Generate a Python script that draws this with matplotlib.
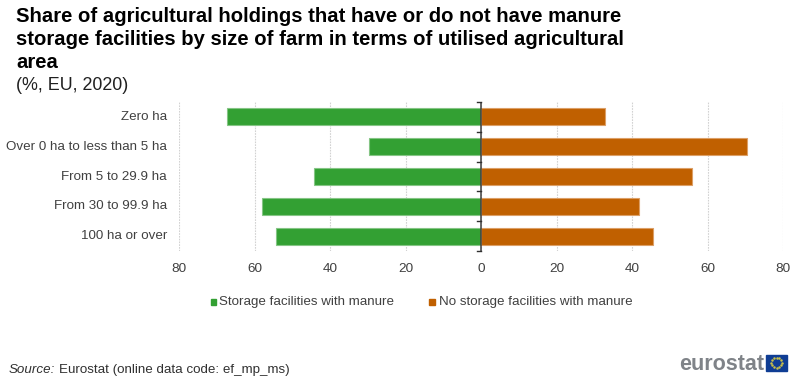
# -*- coding: utf-8 -*-
import numpy as np
import matplotlib
matplotlib.use("Agg")
import matplotlib.pyplot as plt
from matplotlib.patches import Rectangle

plt.rcParams["font.family"] = ["Liberation Sans", "DejaVu Sans"]

categories = ["Zero ha", "Over 0 ha to less than 5 ha", "From 5 to 29.9 ha",
              "From 30 to 99.9 ha", "100 ha or over"]
with_storage = [67.4, 29.8, 44.2, 58.0, 54.5]
no_storage = [32.7, 70.3, 55.7, 41.8, 45.4]
x_ticks = [-80, -60, -40, -20, 0, 20, 40, 60, 80]
x_labels = ["80", "60", "40", "20", "0", "20", "40", "60", "80"]
title_lines = ["Share of agricultural holdings that have or do not have manure",
               "storage facilities by size of farm in terms of utilised agricultural",
               "area"]

GREEN = "#33a033"
ORANGE = "#c06000"
INK = "#404040"
W, H = 800, 385

fig = plt.figure(figsize=(W / 100, H / 100), dpi=100)
ax = fig.add_axes([179.3 / W, 1 - 251.3 / H, (783.3 - 179.3) / W, (251.3 - 101.7) / H])

y = np.arange(len(categories))
ax.barh(y, -np.array(with_storage), height=0.56, color=GREEN,
        edgecolor="#85c585", linewidth=0.8, zorder=3)
ax.barh(y, no_storage, height=0.56, color=ORANGE,
        edgecolor="#dc9f66", linewidth=0.8, zorder=3)

ax.set_xlim(-80, 80)
ax.set_ylim(len(categories) - 0.5, -0.5)
ax.set_xticks(x_ticks, x_labels, fontsize=9.7, color=INK)
ax.tick_params(axis="x", length=0, pad=8.5)
ax.set_yticks([])
ax.grid(axis="x", color="#d2d2d2", linestyle=(0, (1.5, 1)), linewidth=0.8, zorder=0)
for s in ax.spines.values():
    s.set_visible(False)

# axe central avec graduations entre les catégories
ax.axvline(0, color="#404040", linewidth=1.1, zorder=4)
for edge in np.arange(len(categories) + 1) - 0.5:
    ax.plot([-1.15, 0], [edge, edge], color="#303030", linewidth=1.0,
            zorder=4, clip_on=False)
for yy, name in zip(y, categories):
    ax.text(167 / W, 1 - (101.7 + (yy + 0.5) * 29.92) / H, name, transform=fig.transFigure,
            ha="right", va="center", fontsize=9.6, color=INK)

# titre
for line, base in zip(title_lines, [22, 44.7, 68]):
    fig.text(16 / W, 1 - base / H, line, fontsize=14.55, fontweight="bold",
             color="black", va="baseline")
fig.text(16 / W, 1 - 90 / H, "(%, EU, 2020)", fontsize=12.9, color="#202020", va="baseline")

# légende
fig.patches.append(Rectangle((210.7 / W, 1 - 304.5 / H), 5.5 / W, 5.5 / H,
                             transform=fig.transFigure, color=GREEN))
fig.text(219.5 / W, 1 - 301.5 / H, "Storage facilities with manure", fontsize=9.65,
         color=INK, va="center")
fig.patches.append(Rectangle((429.3 / W, 1 - 304.5 / H), 5.5 / W, 5.5 / H,
                             transform=fig.transFigure, color=ORANGE))
fig.text(438.7 / W, 1 - 301.5 / H, "No storage facilities with manure", fontsize=9.65,
         color=INK, va="center")

# source
fig.text(9 / W, 1 - 373 / H, "Source:", fontsize=9.6, style="italic", color="#303030", va="baseline")
fig.text(59 / W, 1 - 373 / H, "Eurostat (online data code: ef_mp_ms)", fontsize=9.6,
         color="#303030", va="baseline")

# logo
fig.text(679 / W, 1 - 370.5 / H, "eurostat", fontsize=15.5, fontweight="bold",
         color="#7f8388", va="baseline")
fig.patches.append(Rectangle((766 / W, 1 - 370.7 / H), 21.3 / W, 15.7 / H,
                             transform=fig.transFigure, color="#0f3d94"))
angles = np.linspace(0, 2 * np.pi, 12, endpoint=False)
fig.add_artist(plt.Line2D((776.6 + 5.2 * np.cos(angles)) / W,
                          1 - (362.8 + 5.2 * np.sin(angles)) / H,
                          transform=fig.transFigure, linestyle="none", marker="o",
                          markersize=0.8, color="#c9c04a"))

fig.savefig("out.png", dpi=100)
